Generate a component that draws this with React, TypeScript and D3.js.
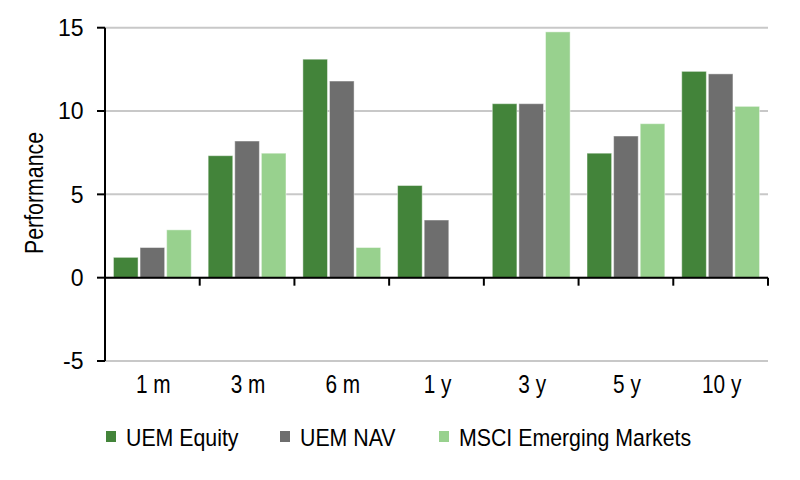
import React, { useEffect, useRef } from "react";
import * as d3 from "d3";

// periods along the x axis
const periods = ["1 m", "3 m", "6 m", "1 y", "3 y", "5 y", "10 y"];
const seriesNames = ["UEM Equity", "UEM NAV", "MSCI Emerging Markets"];
const uemEquity = [1.22, 7.32, 13.11, 5.53, 10.44, 7.47, 12.38];
const uemNav = [1.81, 8.2, 11.8, 3.46, 10.44, 8.5, 12.23];
const msciEm: (number | null)[] = [2.87, 7.47, 1.81, null, 14.75, 9.24, 10.28];
const seriesColors = ["#43843a", "#6e6e6e", "#98d18e"];
const yTicks = [-5, 0, 5, 10, 15];

const FONT = "'Liberation Sans', Arial, sans-serif";

export default function App() {
  const ref = useRef<SVGSVGElement>(null);

  useEffect(() => {
    document.body.style.margin = "0";
    var svg = d3.select(ref.current);
    svg.selectAll("*").remove();

    var left = 105,
      right = 768,
      top = 27.7,
      bottom = 361;

    var x0 = d3.scaleBand().domain(periods).range([left, right]).padding(0);
    var x1 = d3
      .scaleBand()
      .domain(seriesNames)
      .range([0, x0.bandwidth()])
      .paddingInner(0)
      .paddingOuter(0.28);
    var y = d3.scaleLinear().domain([-5, 15]).range([bottom, top]);

    var allSeries = [uemEquity, uemNav, msciEm];

    // gridlines
    svg
      .append("g")
      .selectAll("line")
      .data(yTicks)
      .enter()
      .append("line")
      .attr("x1", left)
      .attr("x2", right)
      .attr("y1", (d) => y(d))
      .attr("y2", (d) => y(d))
      .attr("stroke", "#c8c8c8")
      .attr("stroke-width", 2);

    // bars
    var groups = svg
      .append("g")
      .selectAll("g")
      .data(periods)
      .enter()
      .append("g")
      .attr("transform", (d) => "translate(" + x0(d) + ",0)");

    groups
      .selectAll("rect")
      .data((p, i) =>
        seriesNames
          .map((s, j) => ({ s: s, j: j, v: allSeries[j][i] }))
          .filter((d) => d.v != null)
      )
      .enter()
      .append("rect")
      .attr("x", (d) => (x1(d.s) as number) + 1)
      .attr("width", x1.bandwidth() - 2)
      .attr("y", (d) => y(Math.max(0, d.v as number)))
      .attr("height", (d) => Math.abs(y(d.v as number) - y(0)))
      .attr("fill", (d) => seriesColors[d.j])
      .attr("stroke", "rgba(255,255,255,0.45)")
      .attr("stroke-width", 1);

    // y axis
    svg
      .append("line")
      .attr("x1", left)
      .attr("x2", left)
      .attr("y1", top)
      .attr("y2", bottom)
      .attr("stroke", "#000")
      .attr("stroke-width", 2);

    svg
      .append("g")
      .selectAll("line")
      .data(yTicks)
      .enter()
      .append("line")
      .attr("x1", left - 8)
      .attr("x2", left)
      .attr("y1", (d) => y(d))
      .attr("y2", (d) => y(d))
      .attr("stroke", "#000")
      .attr("stroke-width", 2);

    svg
      .append("g")
      .selectAll("text")
      .data(yTicks)
      .enter()
      .append("text")
      .attr("x", 83.5)
      .attr("y", (d) => y(d) + 8.4)
      .attr("text-anchor", "end")
      .attr("font-family", FONT)
      .attr("font-size", 23)
      .text((d) => d);

    // x axis at zero
    svg
      .append("line")
      .attr("x1", left)
      .attr("x2", right)
      .attr("y1", y(0))
      .attr("y2", y(0))
      .attr("stroke", "#000")
      .attr("stroke-width", 2);

    var boundaries = periods.map((p) => x0(p) as number).concat([right]);
    svg
      .append("g")
      .selectAll("line")
      .data(boundaries.slice(1))
      .enter()
      .append("line")
      .attr("x1", (d) => d)
      .attr("x2", (d) => d)
      .attr("y1", y(0))
      .attr("y2", y(0) + 8)
      .attr("stroke", "#000")
      .attr("stroke-width", 2);

    svg
      .append("g")
      .selectAll("text")
      .data(periods)
      .enter()
      .append("text")
      .attr(
        "transform",
        (d) =>
          "translate(" + ((x0(d) as number) + x0.bandwidth() / 2 + 1) + ",393) scale(0.8,1)"
      )
      .attr("text-anchor", "middle")
      .attr("font-family", FONT)
      .attr("font-size", 26)
      .text((d) => d);

    // axis title
    svg
      .append("text")
      .attr("transform", "translate(43,193) rotate(-90) scale(0.82,1)")
      .attr("text-anchor", "middle")
      .attr("font-family", FONT)
      .attr("font-size", 26)
      .text("Performance");

    // legend
    var legendX = [106, 280, 439];
    var legend = svg
      .append("g")
      .selectAll("g")
      .data(seriesNames)
      .enter()
      .append("g")
      .attr("transform", (d, i) => "translate(" + legendX[i] + ",0)");
    legend
      .append("rect")
      .attr("x", 0)
      .attr("y", 431)
      .attr("width", 10)
      .attr("height", 11)
      .attr("fill", (d, i) => seriesColors[i]);
    legend
      .append("text")
      .attr("transform", "translate(20,446) scale(0.87,1)")
      .attr("font-family", FONT)
      .attr("font-size", 24.5)
      .text((d) => d);
  }, []);

  return <svg ref={ref} width={800} height={480} style={{ display: "block" }} />;
}
